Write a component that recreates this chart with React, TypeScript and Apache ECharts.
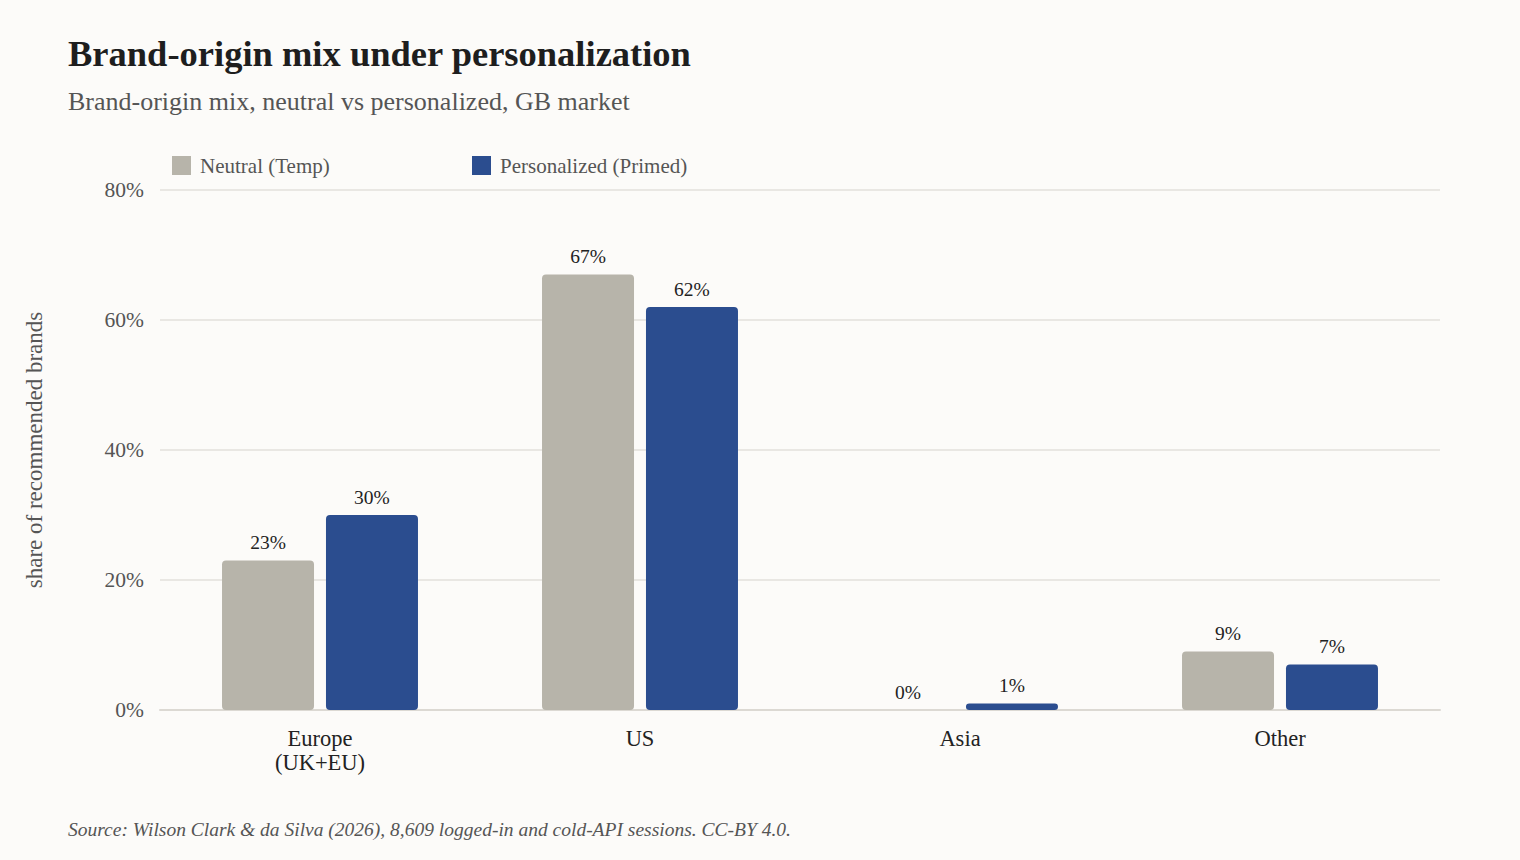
import React, { useEffect, useRef } from "react";
import * as echarts from "echarts";

const categories = ["Europe\n(UK+EU)", "US", "Asia", "Other"];
const neutralValues = [23, 67, 0, 9];
const personalizedValues = [30, 62, 1, 7];
const seriesNames = ["Neutral (Temp)", "Personalized (Primed)"];
const yTicks = [0, 20, 40, 60, 80];

const FONT = "'Liberation Serif', 'DejaVu Serif', serif";

export default function App() {
  const ref = useRef<HTMLDivElement>(null);
  useEffect(() => {
    document.body.style.margin = "0";
    if (!ref.current) return;
    const chart = echarts.init(ref.current, null, { renderer: "svg" });
    const legendBase = {
      top: 150,
      itemWidth: 19,
      itemHeight: 19,
      icon: "rect",
      textStyle: { fontFamily: FONT, fontSize: 21, color: "#555555", padding: [0, 0, 0, 4] },
    };
    const barLabel = {
      show: true,
      position: "top",
      distance: 8,
      formatter: "{c}%",
      fontFamily: FONT,
      fontSize: 19.5,
      color: "#222222",
    };
    chart.setOption({
      animation: false,
      backgroundColor: "#fcfbf9",
      textStyle: { fontFamily: FONT },
      title: [
        {
          text: "Brand-origin mix under personalization",
          left: 63,
          top: 30,
          textStyle: { fontFamily: FONT, fontSize: 36.5, fontWeight: "bold", color: "#1e1e1e" },
        },
        {
          text: "Brand-origin mix, neutral vs personalized, GB market",
          left: 63,
          top: 83,
          textStyle: { fontFamily: FONT, fontSize: 26, fontWeight: "normal", color: "#555555" },
        },
        {
          text: "Source: Wilson Clark & da Silva (2026), 8,609 logged-in and cold-API sessions. CC-BY 4.0.",
          left: 63,
          top: 814,
          textStyle: { fontFamily: FONT, fontSize: 19.5, fontStyle: "italic", fontWeight: "normal", color: "#555555" },
        },
      ],
      legend: [
        { ...legendBase, left: 167, data: [seriesNames[0]] },
        { ...legendBase, left: 467, data: [seriesNames[1]] },
      ],
      grid: { left: 160, right: 80, top: 190, bottom: 150 },
      xAxis: {
        type: "category",
        data: categories,
        axisLine: { show: true, lineStyle: { color: "#dcd9d3", width: 2 } },
        axisTick: { show: false },
        axisLabel: {
          fontFamily: FONT,
          fontSize: 22.5,
          color: "#222222",
          margin: 16,
          lineHeight: 24,
        },
      },
      yAxis: {
        type: "value",
        min: 0,
        max: 80,
        interval: 20,
        name: "share of recommended brands",
        nameLocation: "middle",
        nameGap: 114,
        nameTextStyle: { fontFamily: FONT, fontSize: 23, color: "#555555" },
        axisLine: { show: false },
        axisTick: { show: false },
        splitLine: { lineStyle: { color: "#e3e0db", width: 1.5 } },
        axisLabel: {
          fontFamily: FONT,
          fontSize: 21.5,
          color: "#555555",
          margin: 16,
          formatter: (v: number) => (yTicks.includes(v) ? v + "%" : ""),
        },
      },
      series: [
        {
          name: seriesNames[0],
          type: "bar",
          data: neutralValues,
          barWidth: 92,
          barGap: "13%",
          itemStyle: { color: "#b7b4aa", borderRadius: 4 },
          label: barLabel,
        },
        {
          name: seriesNames[1],
          type: "bar",
          data: personalizedValues,
          barWidth: 92,
          barGap: "13%",
          itemStyle: { color: "#2b4d8f", borderRadius: 4 },
          label: barLabel,
        },
      ],
    });
    return () => chart.dispose();
  }, []);
  return <div ref={ref} style={{ width: 1520, height: 860 }} />;
}
